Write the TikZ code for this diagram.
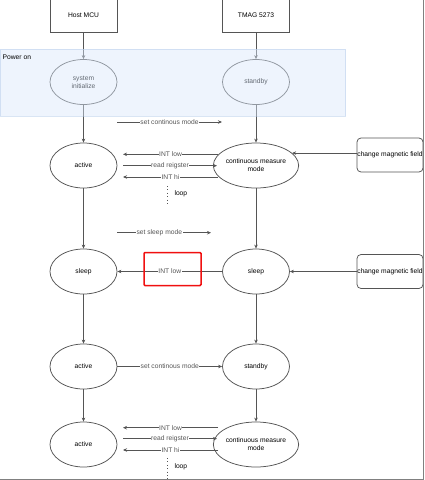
\documentclass[tikz,border=0pt]{standalone}
\usepackage{fontspec}
\setmainfont{Liberation Sans}
\usetikzlibrary{shapes.geometric,arrows.meta}
\definecolor{ln}{HTML}{555555}
\definecolor{regfill}{HTML}{DAE8FC}
\definecolor{regdraw}{HTML}{B5CCEA}
\definecolor{hl}{HTML}{F01010}
\begin{document}
\begin{tikzpicture}[x=1pt,y=-1pt,font=\fontsize{6.7}{7.9}\selectfont,
  st/.style={ellipse,draw=ln,line width=0.75pt,minimum width=67pt,minimum height=45pt,inner sep=0pt,align=center},
  bx/.style={rectangle,draw=ln,line width=0.75pt,minimum width=67pt,minimum height=35pt},
  cmf/.style={rectangle,rounded corners=4pt,draw=ln,line width=0.75pt,minimum width=66pt,minimum height=34pt,inner sep=0pt},
  ar/.style={ln,line width=0.75pt,-{Stealth[length=4pt,width=3.5pt]}},
  lbl/.style={fill=white,inner sep=0.6pt},
  dots/.style={ln,line width=0.8pt,dash pattern=on 0.8pt off 2.6pt}]
\clip (0,0) rectangle (424,480);
\fill[white] (0,0) rectangle (424,480);

% top boxes
\node[bx] (host) at (83.5,15) {Host MCU};
\node[bx] (tmag) at (256,15) {TMAG 5273};

% states
\node[st] (sys) at (83.5,82) {system\\initialize};
\node[st] (stb1) at (256,82) {standby};
\node[st] (act1) at (83.5,165.5) {active};
\node[st] (cmm1) at (256,165.5) {continuous measure\\mode};
\node[st] (slp1) at (83.5,271.5) {sleep};
\node[st] (slp2) at (256,271.5) {sleep};
\node[st] (act3) at (83.5,366.5) {active};
\node[st] (stb3) at (256,366.5) {standby};
\node[st] (act4) at (83.5,444.5) {active};
\node[st] (cmm4) at (256,444.5) {continuous measure\\mode};

\node[cmf] (cmf1) at (390,155) {change magnetic field};
\node[cmf] (cmf2) at (390,271.5) {change magnetic field};

% vertical flows
\draw[ar] (host) -- (sys);
\draw[ar] (tmag) -- (stb1);
\draw[ar] (sys) -- (act1);
\draw[ar] (stb1) -- (cmm1);
\draw[ar] (act1) -- (slp1);
\draw[ar] (cmm1) -- (slp2);
\draw[ar] (slp1) -- (act3);
\draw[ar] (slp2) -- (stb3);
\draw[ar] (act3) -- (act4);
\draw[ar] (stb3) -- (cmm4);

% free message arrows
\coordinate (m1a) at (117,122);   \coordinate (m1b) at (222,122);
\coordinate (m2a) at (218,154.3); \coordinate (m2b) at (123,154.3);
\coordinate (m3a) at (123,165.7); \coordinate (m3b) at (217,165.7);
\coordinate (m4a) at (218,177);   \coordinate (m4b) at (123,177);
\coordinate (m5a) at (117,232.7); \coordinate (m5b) at (211,232.7);
\coordinate (m6a) at (218,427.7); \coordinate (m6b) at (123,427.7);
\coordinate (m7a) at (123,438.7); \coordinate (m7b) at (217,438.7);
\coordinate (m8a) at (218,450);   \coordinate (m8b) at (123,450);
\coordinate (d1a) at (167,186);   \coordinate (d1b) at (167,206);
\coordinate (d2a) at (167,458);   \coordinate (d2b) at (167,482);

\draw[ar] (m1a) -- node[lbl]{set continous mode} (m1b);
\draw[ar] (m2a) -- node[lbl]{INT low} (m2b);
\draw[ar] (m3a) -- node[lbl]{read reigster} (m3b);
\draw[ar] (m4a) -- node[lbl]{INT hi} (m4b);
\draw[ar] (m5a) -- node[lbl,pos=0.45]{set sleep mode} (m5b);
\draw[ar] (m6a) -- node[lbl]{INT low} (m6b);
\draw[ar] (m7a) -- node[lbl]{read reigster} (m7b);
\draw[ar] (m8a) -- node[lbl]{INT hi} (m8b);

\draw[dots] (d1a) -- (d1b);
\node[anchor=west] (loop1) at (171,194) {loop};
\draw[dots] (d2a) -- (d2b);
\node[anchor=west] (loop2) at (171,467) {loop};

\draw[ar] (slp2) -- node[lbl]{INT low} (slp1);
\draw[ar] (act3) -- node[lbl]{set continous mode} (stb3);

\draw[ar] (cmf1.west |- cmm1.19.5) -- (cmm1.19.5);
\draw[ar] (cmf2) -- (slp2);

% highlight
\node[draw=hl,line width=1.5pt,rounded corners=1pt,minimum width=57pt,minimum height=33pt,inner sep=0pt] (hlbox) at (172.5,269) {};

% power on region overlay
\fill[regfill,fill opacity=0.45] (0,49) rectangle (345.5,116);
\draw[regdraw,line width=0.5pt,draw opacity=0.5] (0,49) rectangle (345.5,116);
\node[anchor=west,inner sep=0pt] (pwr) at (2.5,57) {Power on};

% frame
\draw[gray,line width=1.2pt] (423.2,-2) -- (423.2,479.2) -- (-2,479.2);
\end{tikzpicture}
\end{document}
